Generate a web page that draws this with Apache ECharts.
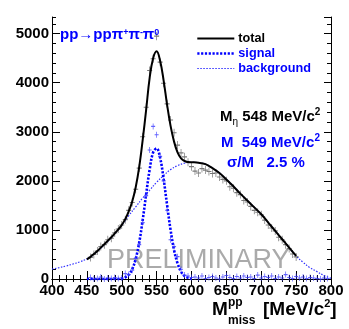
<!DOCTYPE html>
<html>
<head>
<meta charset="utf-8">
<script src="https://cdn.jsdelivr.net/npm/echarts@6/dist/echarts.min.js"></script>
<style>
html, body { margin: 0; padding: 0; background: #fff; }
#chart { width: 349px; height: 329px; }
</style>
</head>
<body>
<div id="chart"></div>
<script>
// fit: total (450-750)
var totalMass = [450, 455, 460, 465, 470, 475, 480, 485, 490, 495, 500, 505, 510, 515, 520, 525, 530, 535, 540, 545,
    550, 555, 560, 565, 570, 575, 580, 585, 590, 595, 600, 610, 620, 630, 640, 650, 660, 670, 680, 690,
    700, 710, 720, 730, 740, 750];
var totalCounts = [400, 450, 510, 570, 640, 710, 780, 850, 930, 1010, 1100, 1220, 1380, 1580, 1870, 2280, 2830, 3450, 4100, 4500,
    4640, 4450, 4050, 3550, 3120, 2800, 2580, 2460, 2405, 2385, 2380, 2370, 2340, 2260, 2160, 2030, 1890, 1740, 1600, 1460,
    1320, 1150, 980, 810, 640, 470];
// fit: signal (gaussian part)
var signalMass = [450, 460, 470, 480, 490, 500, 505, 510, 515, 520, 525, 530, 535, 540, 545, 550, 555, 560, 565, 570,
    575, 580, 585, 590, 595, 600];
var signalCounts = [0, 0, 0, 0, 0, 10, 35, 90, 200, 410, 740, 1200, 1730, 2230, 2580, 2660, 2470, 2040, 1510, 1000,
    590, 320, 150, 60, 25, 0];
// fit: background (400-800)
var bkgMass = [400, 410, 420, 430, 440, 450, 460, 470, 480, 490, 500, 510, 520, 530, 540, 550, 560, 570, 580, 590,
    600, 610, 620, 630, 640, 650, 660, 670, 680, 690, 700, 710, 720, 730, 740, 750, 760, 770, 780, 790, 800];
var bkgCounts = [200, 230, 265, 305, 350, 410, 500, 630, 770, 920, 1090, 1290, 1470, 1650, 1810, 1970, 2110, 2230, 2310, 2360,
    2380, 2370, 2340, 2260, 2160, 2030, 1890, 1740, 1600, 1460, 1320, 1150, 980, 810, 640, 470, 340, 230, 150, 70, 15];
// measured spectrum (black crosses)
var dataMass = [455, 460, 465, 470, 475, 480, 485, 490, 495, 500, 505, 510, 515, 520, 525, 530, 535, 540, 545, 550,
    555, 560, 565, 570, 575, 580, 585, 590, 595, 600, 605, 610, 615, 620, 625, 630, 635, 640, 645, 650,
    655, 660, 665, 670, 675, 680, 685, 690, 695, 700, 705, 710, 715, 720, 725, 730, 735, 740, 745, 750];
var dataCounts = [440, 500, 570, 660, 700, 800, 830, 940, 1020, 1100, 1210, 1400, 1560, 1830, 2260, 2900, 3500, 4250, 4490, 4950,
    4420, 3990, 3570, 3240, 2980, 2730, 2570, 2490, 2380, 2290, 2200, 2160, 2250, 2220, 2190, 2150, 2160, 2080, 2030, 2000,
    1880, 1850, 1760, 1720, 1600, 1570, 1480, 1400, 1360, 1310, 1200, 1100, 1040, 980, 850, 800, 700, 620, 510, 450];
// background-subtracted spectrum (blue crosses)
var subMass = [455, 460, 465, 470, 475, 480, 485, 490, 495, 500, 505, 510, 515, 520, 525, 530, 535, 540, 545, 550,
    555, 560, 565, 570, 575, 580, 585, 590, 595, 600, 605, 610, 615, 620, 625, 630, 635, 640, 645, 650,
    655, 660, 665, 670, 675, 680, 685, 690, 695, 700, 705, 710, 715, 720, 725, 730, 735, 740, 745, 750,
    755, 760, 765, 770, 775, 780, 785, 790, 795];
var subCounts = [30, 5, 10, 40, 0, 20, 10, 30, 10, 20, 110, 90, 180, 420, 700, 1150, 1700, 2630, 3110, 2940,
    2500, 2000, 1400, 800, 660, 455, 200, 80, 60, 30, 40, 20, 60, 10, 30, 50, 20, 0, 40, 70,
    30, 10, 50, 20, 60, 30, 40, 10, 80, 20, 50, 30, 60, 10, 40, 20, 90, 30, 10, 50,
    20, 40, 10, 30, 20, 10, 0, 20, 10];

function pairs(xs, ys) {
    return xs.map(function (x, i) { return [x, ys[i]]; });
}

var bold = '"Liberation Sans", Arial, sans-serif';
var blue = '#0000ff';
var bkgBlue = '#3030ff';
var cross = 'path://M5,0 L5,10 M0,5 L10,5';

var bkgLine = { color: bkgBlue, width: 1.2, type: [1.5, 1.5] };
var sigLine = { color: blue, width: 2.6, type: [2.2, 1.6] };
var totLine = { color: '#000', width: 2 };

var chart = echarts.init(document.getElementById('chart'));

var xBase = { type: 'value', min: 400, max: 800, interval: 50, splitLine: { show: false } };
var yBase = { type: 'value', min: 0, max: 5340, splitLine: { show: false } };

option = {
    animation: false,
    grid: { left: 52, right: 18, top: 17, bottom: 50 },
    legend: {
        orient: 'vertical',
        left: 191,
        top: 27,
        itemWidth: 37,
        itemHeight: 14,
        itemGap: 2,
        itemStyle: { opacity: 0 },
        textStyle: { fontFamily: bold, fontWeight: 'bold', fontSize: 12.7, padding: [0, 0, 0, -1] },
        data: [
            { name: 'total', textStyle: { color: '#000' }, lineStyle: totLine },
            { name: 'signal', textStyle: { color: blue }, lineStyle: sigLine },
            { name: 'background', textStyle: { color: blue }, lineStyle: bkgLine }
        ]
    },
    xAxis: [
        Object.assign({}, xBase, {
            position: 'bottom',
            axisLine: { lineStyle: { color: '#000', width: 1 } },
            axisTick: { inside: true, length: 8, lineStyle: { color: '#000' } },
            minorTick: { show: true, splitNumber: 5, length: 4, lineStyle: { color: '#000' } },
            axisLabel: { color: '#000', fontFamily: bold, fontWeight: 'bold', fontSize: 15, margin: 4 }
        }),
        Object.assign({}, xBase, {
            position: 'top',
            axisLine: { lineStyle: { color: '#000', width: 1 } },
            axisTick: { inside: true, length: 6, lineStyle: { color: '#000' } },
            minorTick: { show: true, splitNumber: 5, length: 3, lineStyle: { color: '#000' } },
            axisLabel: { show: false }
        })
    ],
    yAxis: [
        Object.assign({}, yBase, {
            position: 'left', interval: 1000,
            axisLine: { show: true, lineStyle: { color: '#000', width: 1 } },
            axisTick: { show: true, inside: true, length: 8, lineStyle: { color: '#000' } },
            axisLabel: {
                color: '#000', fontFamily: bold, fontWeight: 'bold', fontSize: 15, margin: 3, showMaxLabel: false,
                formatter: function (v) { return String(v); }
            }
        }),
        Object.assign({}, yBase, {
            position: 'left', interval: 200,
            axisLine: { show: false },
            axisTick: { show: true, inside: true, length: 4, lineStyle: { color: '#000' } },
            axisLabel: { show: false }
        }),
        Object.assign({}, yBase, {
            position: 'right', interval: 1000,
            axisLine: { show: true, lineStyle: { color: '#000', width: 1 } },
            axisTick: { show: true, inside: true, length: 7, lineStyle: { color: '#000' } },
            axisLabel: { show: false }
        }),
        Object.assign({}, yBase, {
            position: 'right', interval: 200,
            axisLine: { show: false },
            axisTick: { show: true, inside: true, length: 4, lineStyle: { color: '#000' } },
            axisLabel: { show: false }
        })
    ],
    graphic: [
        {
            type: 'text', x: 60, y: 35, z: 10,
            style: {
                text: '{a|pp→ppπ}{s|+}{a|π}{s|-}{a|π}{s|0}',
                verticalAlign: 'middle',
                rich: {
                    a: { fontFamily: bold, fontWeight: 'bold', fontSize: 15, fill: blue, lineHeight: 14, verticalAlign: 'bottom' },
                    s: { fontFamily: bold, fontWeight: 'bold', fontSize: 9, fill: blue, lineHeight: 14, verticalAlign: 'top' }
                }
            }
        },
        {
            type: 'text', x: 220, y: 117, z: 10,
            style: {
                text: '{a|M}{b|η}{a| 548 MeV/c}{s|2}',
                verticalAlign: 'middle',
                rich: {
                    a: { fontFamily: bold, fontWeight: 'bold', fontSize: 15, fill: '#000', lineHeight: 20, verticalAlign: 'middle' },
                    b: { fontFamily: bold, fontSize: 10, fill: '#000', lineHeight: 20, verticalAlign: 'bottom' },
                    s: { fontFamily: bold, fontWeight: 'bold', fontSize: 10, fill: '#000', lineHeight: 20, verticalAlign: 'top' }
                }
            }
        },
        {
            type: 'text', x: 221, y: 143, z: 10,
            style: {
                text: '{a|M  549 MeV/c}{s|2}',
                verticalAlign: 'middle',
                rich: {
                    a: { fontFamily: bold, fontWeight: 'bold', fontSize: 15, fill: blue, lineHeight: 20, verticalAlign: 'middle' },
                    s: { fontFamily: bold, fontWeight: 'bold', fontSize: 10, fill: blue, lineHeight: 20, verticalAlign: 'top' }
                }
            }
        },
        {
            type: 'text', x: 227, y: 163, z: 10,
            style: { text: 'σ/M   2.5 %', font: 'bold 15px ' + bold, fill: blue, verticalAlign: 'middle' }
        },
        {
            type: 'text', x: 107, y: 261, z: 0,
            style: { text: 'PRELIMINARY', font: 'normal 27px ' + bold, fill: '#aaaaaa', verticalAlign: 'middle' }
        },
        {
            type: 'text', x: 212, y: 310, z: 10,
            style: { text: 'M', font: 'bold 19px ' + bold, fill: '#000', verticalAlign: 'middle' }
        },
        {
            type: 'text', x: 228, y: 303, z: 10,
            style: { text: 'pp', font: 'bold 12px ' + bold, fill: '#000', verticalAlign: 'middle' }
        },
        {
            type: 'text', x: 228, y: 321, z: 10,
            style: { text: 'miss', font: 'bold 12px ' + bold, fill: '#000', verticalAlign: 'middle' }
        },
        {
            type: 'text', x: 263, y: 310, z: 10,
            style: {
                text: '{a|[MeV/c}{s|2}{a|]}',
                verticalAlign: 'middle',
                rich: {
                    a: { fontFamily: bold, fontWeight: 'bold', fontSize: 19, fill: '#000', lineHeight: 24, verticalAlign: 'middle' },
                    s: { fontFamily: bold, fontWeight: 'bold', fontSize: 11, fill: '#000', lineHeight: 24, verticalAlign: 'top' }
                }
            }
        }
    ],
    series: [
        {
            name: 'background',
            type: 'line',
            data: pairs(bkgMass, bkgCounts),
            smooth: 0.4,
            symbol: 'none',
            z: 3,
            lineStyle: bkgLine,
            itemStyle: { color: bkgBlue }
        },
        {
            name: 'signal',
            type: 'line',
            data: pairs(signalMass, signalCounts),
            smooth: 0.4,
            symbol: 'none',
            z: 4,
            lineStyle: sigLine,
            itemStyle: { color: blue }
        },
        {
            name: 'data',
            type: 'scatter',
            data: pairs(dataMass, dataCounts),
            symbol: cross,
            symbolSize: [5, 8],
            z: 5,
            itemStyle: { color: 'none', borderColor: '#555', borderWidth: 0.9 }
        },
        {
            name: 'subtracted',
            type: 'scatter',
            data: pairs(subMass, subCounts),
            symbol: cross,
            symbolSize: [4, 6],
            z: 5,
            itemStyle: { color: 'none', borderColor: '#3a3aff', borderWidth: 0.9 }
        },
        {
            name: 'total',
            type: 'line',
            data: pairs(totalMass, totalCounts),
            smooth: 0.4,
            symbol: 'none',
            z: 6,
            lineStyle: totLine,
            itemStyle: { color: '#000' }
        }
    ]
};
chart.setOption(option);
</script>
</body>
</html>
